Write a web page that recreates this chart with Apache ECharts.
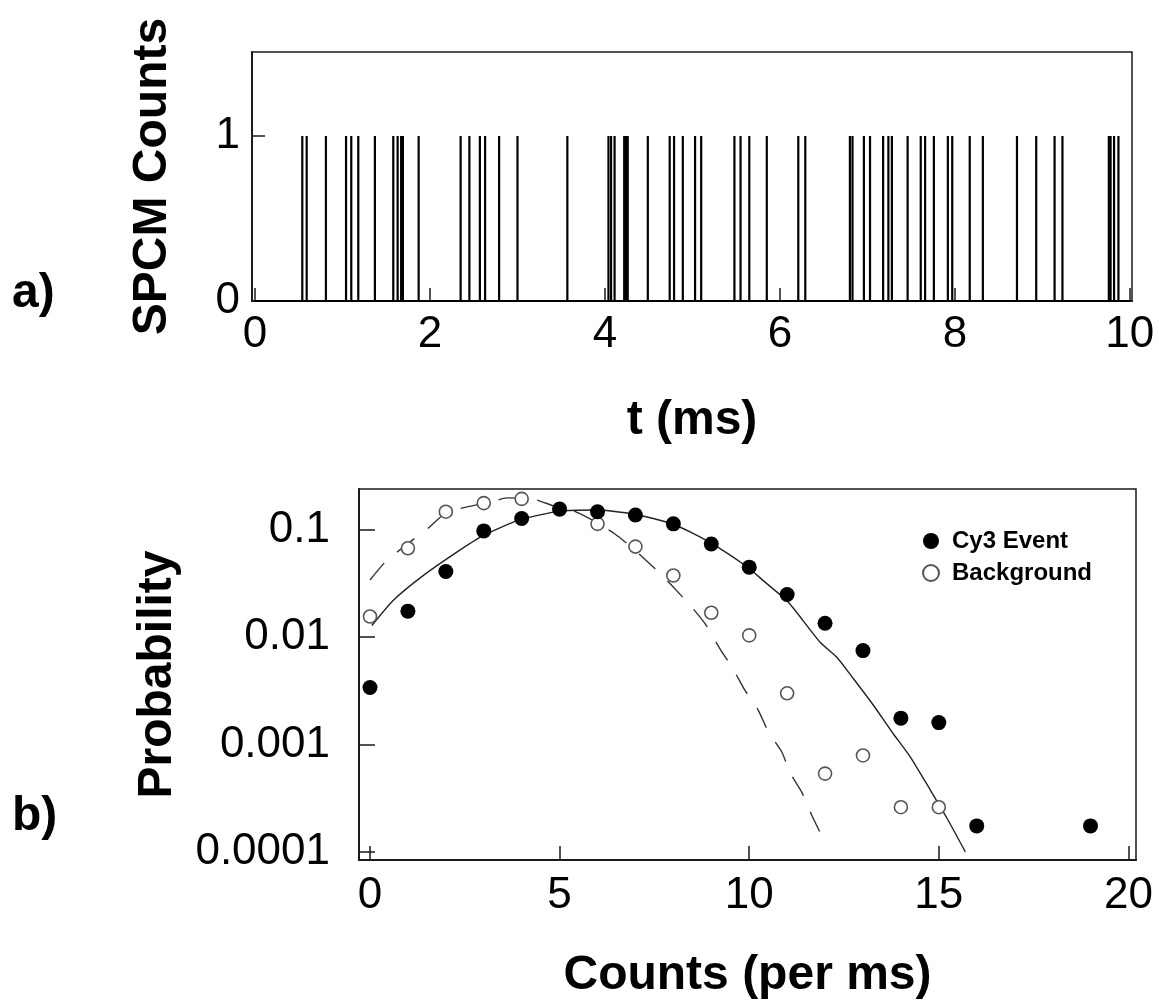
<!DOCTYPE html>
<html>
<head>
<meta charset="utf-8">
<script src="https://cdn.jsdelivr.net/npm/echarts@6/dist/echarts.min.js"></script>
<style>
  html, body { margin: 0; padding: 0; background: #fff; }
  #chart { width: 1159px; height: 1002px; }
</style>
</head>
<body>
<div id="chart"></div>
<script>
// (a) photon arrival times on the SPCM channel, in ms
const photonTimes = [
  0.54, 0.59, 0.81, 1.04, 1.10, 1.18, 1.37, 1.58, 1.63, 1.67, 1.69, 1.87,
  2.35, 2.45, 2.57, 2.63, 2.79, 3.00, 3.57, 4.04, 4.07, 4.11, 4.22, 4.24,
  4.26, 4.49, 4.74, 4.79, 4.89, 5.03, 5.10, 5.48, 5.55, 5.65, 5.85, 6.21,
  6.29, 6.80, 6.83, 6.96, 7.03, 7.18, 7.24, 7.28, 7.46, 7.61, 7.66, 7.76,
  7.92, 7.97, 8.17, 8.32, 8.71, 8.93, 9.14, 9.23, 9.76, 9.78, 9.82, 9.87
];
const timeTicks = [0, 2, 4, 6, 8, 10];
const countTicks = [0, 1];

// (b) photon-count histograms (counts per ms) and their model curves
const cy3Bins = [0, 1, 2, 3, 4, 5, 6, 7, 8, 9, 10, 11, 12, 13, 14, 15, 16, 19];
const cy3Prob = [0.0034, 0.0175, 0.041, 0.098, 0.128, 0.157, 0.148, 0.138, 0.114,
                 0.074, 0.045, 0.025, 0.0135, 0.0075, 0.00176, 0.0016, 0.000174, 0.000174];
const bgBins = [0, 1, 2, 3, 4, 5, 6, 7, 8, 9, 10, 11, 12, 13, 14, 15];
const bgProb = [0.0156, 0.0675, 0.148, 0.178, 0.195, 0.155, 0.114, 0.070, 0.0376,
                0.0169, 0.0104, 0.0030, 0.000535, 0.00079, 0.00026, 0.00026];

const cy3FitX = [0.05, 0.61, 1.40, 2.28, 2.98, 3.94, 4.97, 5.97, 6.94, 7.99, 8.96, 9.96,
                 10.37, 10.99, 11.25, 11.87, 12.31, 12.75, 13.28, 13.77, 14.25, 14.78, 15.22, 15.70];
const cy3FitY = [0.01285, 0.0220, 0.0375, 0.0618, 0.0885, 0.124, 0.149, 0.1535, 0.141, 0.1137,
                 0.0766, 0.0449, 0.0337, 0.0220, 0.0171, 0.00898, 0.00651, 0.0041, 0.00231,
                 0.00130, 0.000763, 0.000374, 0.000204, 0.0000995];
const bgFitX = [0.0, 0.42, 1.10, 1.51, 2.02, 2.59, 3.17, 3.61, 4.29, 4.84, 5.36, 5.89, 6.46,
                6.95, 7.52, 7.96, 8.49, 8.84, 9.23, 9.57, 9.89, 10.24, 10.51, 10.86, 11.08,
                11.39, 11.65, 11.89];
const bgFitY = [0.0342, 0.051, 0.0795, 0.102, 0.146, 0.165, 0.181, 0.199, 0.195, 0.168, 0.151,
                0.122, 0.0918, 0.0665, 0.0434, 0.0303, 0.0190, 0.0133, 0.0078, 0.00508,
                0.00319, 0.00208, 0.0013, 0.00085, 0.000542, 0.000356, 0.000219, 0.000146];
const binTicks = [0, 5, 10, 15, 20];
const probTickLabels = { '-4': '0.0001', '-3': '0.001', '-2': '0.01', '-1': '0.1' };

const FONT = 'Arial, "Liberation Sans", Helvetica, sans-serif';
const INK = '#1a1a1a';

// trace: flat baseline with a unit-height spike at every arrival
const traceData = [[0, 0]];
photonTimes.forEach(t => { traceData.push([t, 0], [t, 1], [t, 0]); });
traceData.push([10, 0]);

const zip = (xs, ys) => xs.map((x, i) => [x, ys[i]]);

const tickLabel = (size) => ({ color: '#000', fontFamily: FONT, fontSize: size });
const axisName = (size) => ({ color: '#000', fontFamily: FONT, fontSize: size, fontWeight: 'bold' });
const frameLine = { show: true, onZero: false, lineStyle: { color: INK, width: 2 } };

const chart = echarts.init(document.getElementById('chart'), null, { renderer: 'canvas' });

chart.setOption({
  backgroundColor: '#fff',
  animation: false,
  grid: [
    { left: 252, top: 52, width: 880, height: 249, show: true, borderColor: INK, borderWidth: 1.5, backgroundColor: 'transparent' },
    { left: 359, top: 489, width: 777, height: 371, show: true, borderColor: INK, borderWidth: 1.5, backgroundColor: 'transparent' }
  ],
  xAxis: [
    {
      gridIndex: 0, type: 'value', min: -0.035, max: 10.025,
      axisLine: frameLine,
      axisTick: { show: true, inside: true, length: 13, customValues: timeTicks, lineStyle: { color: INK, width: 1.5 } },
      axisLabel: { show: true, customValues: timeTicks, margin: 12, ...tickLabel(44) },
      splitLine: { show: false },
      name: 't (ms)', nameLocation: 'middle', nameGap: 96, nameTextStyle: axisName(48)
    },
    {
      gridIndex: 1, type: 'value', min: -0.29, max: 20.2,
      axisLine: frameLine,
      axisTick: { show: true, inside: true, length: 14, customValues: binTicks, lineStyle: { color: INK, width: 1.5 } },
      axisLabel: { show: true, customValues: binTicks, margin: 14, ...tickLabel(44) },
      splitLine: { show: false },
      name: 'Counts (per ms)', nameLocation: 'middle', nameGap: 92, nameTextStyle: axisName(48)
    }
  ],
  yAxis: [
    {
      gridIndex: 0, type: 'value', min: 0, max: 1.51,
      axisLine: frameLine,
      axisTick: { show: true, inside: true, length: 13, customValues: countTicks, lineStyle: { color: INK, width: 1.5 } },
      axisLabel: { show: true, customValues: countTicks, margin: 12, ...tickLabel(44) },
      splitLine: { show: false },
      name: 'SPCM Counts', nameLocation: 'middle', nameRotate: 90, nameGap: 75, nameTextStyle: axisName(48)
    },
    {
      gridIndex: 1, type: 'log', logBase: 10, min: 0.0000837, max: 0.241,
      axisLine: frameLine,
      axisTick: { show: true, inside: true, length: 16, lineStyle: { color: INK, width: 1.5 } },
      axisLabel: {
        show: true, margin: 29, showMinLabel: false, showMaxLabel: false, ...tickLabel(44),
        formatter: v => probTickLabels[String(Math.round(Math.log10(v)))] || ''
      },
      minorTick: { show: false },
      splitLine: { show: false },
      name: 'Probability', nameLocation: 'middle', nameRotate: 90, nameGap: 177, nameTextStyle: axisName(48)
    }
  ],
  legend: {
    data: ['Cy3 Event', 'Background'],
    orient: 'vertical', left: 917, top: 524,
    itemWidth: 16, itemHeight: 16, itemGap: 8,
    selectedMode: false,
    textStyle: { color: '#000', fontFamily: FONT, fontSize: 24, fontWeight: 'bold', lineHeight: 24, padding: [0, 0, 0, 8] }
  },
  graphic: [
    { type: 'text', left: 12, top: 270, style: { text: 'a)', fill: '#000', font: 'bold 48px ' + FONT } },
    { type: 'text', left: 12, top: 793, style: { text: 'b)', fill: '#000', font: 'bold 48px ' + FONT } }
  ],
  series: [
    {
      type: 'line', xAxisIndex: 0, yAxisIndex: 0,
      data: traceData, showSymbol: false, symbol: 'none',
      lineStyle: { color: '#000', width: 2.2 }, silent: true
    },
    {
      type: 'line', xAxisIndex: 1, yAxisIndex: 1,
      data: zip(cy3FitX, cy3FitY), symbol: 'none', smooth: 0.2,
      lineStyle: { color: '#222', width: 1.4 }, silent: true, z: 2
    },
    {
      type: 'line', xAxisIndex: 1, yAxisIndex: 1,
      data: zip(bgFitX, bgFitY), symbol: 'none', smooth: 0.2,
      lineStyle: { color: '#333', width: 1.4, type: [22, 17] }, silent: true, z: 2
    },
    {
      name: 'Background', type: 'scatter', xAxisIndex: 1, yAxisIndex: 1,
      data: zip(bgBins, bgProb), symbol: 'circle', symbolSize: 13,
      itemStyle: { color: '#fff', borderColor: '#555', borderWidth: 1.6, opacity: 1 }, z: 3
    },
    {
      name: 'Cy3 Event', type: 'scatter', xAxisIndex: 1, yAxisIndex: 1,
      data: zip(cy3Bins, cy3Prob), symbol: 'circle', symbolSize: 15,
      itemStyle: { color: '#000', opacity: 1 }, z: 4
    }
  ]
});
</script>
</body>
</html>
